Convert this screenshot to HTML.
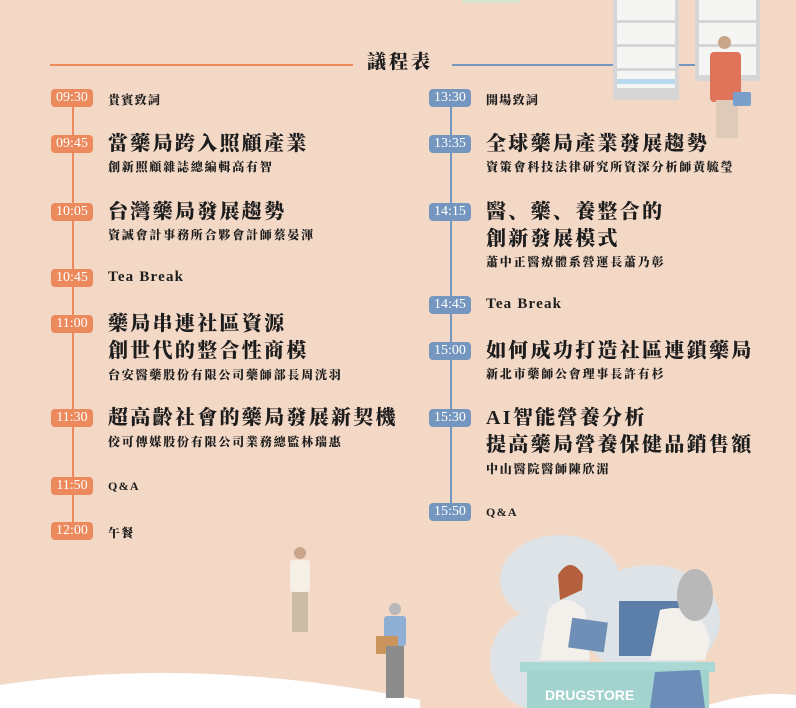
<!DOCTYPE html>
<html><head><meta charset="utf-8"><style>
*{margin:0;padding:0;box-sizing:border-box}
body{width:796px;height:708px;overflow:hidden;background:#f3d8c6;position:relative;font-family:"Liberation Serif","Noto Serif CJK SC","Noto Sans CJK TC",serif;color:#1d1d1d}
.a{position:absolute}
.b{position:absolute;width:42px;height:18px;border-radius:4px;color:#fff;font-size:14px;line-height:18px;text-align:center;font-family:"Liberation Serif",serif}
.o{background:#ec8a5e}.bl{background:#7597bf}
.t{position:absolute;font-weight:900;font-size:20px;line-height:27px;letter-spacing:2.3px;white-space:nowrap}
.s{position:absolute;font-weight:900;font-size:12px;line-height:14px;letter-spacing:1.8px;white-space:nowrap}
.m{position:absolute;font-weight:900;font-size:12px;white-space:nowrap;letter-spacing:1.3px}
.en{font-size:15px;letter-spacing:1.2px}
</style></head><body>
<div class="a" style="left:462px;top:0;width:58px;height:3px;background:#d7e6cf"></div>
<div class="a" style="left:613px;top:0;width:66px;height:100px;background:#d6d6d6"></div>
<div class="a" style="left:617px;top:0;width:58px;height:88px;background:#f5f5f3"></div>
<div class="a" style="left:617px;top:20px;width:58px;height:3px;background:#d6d6d6"></div>
<div class="a" style="left:617px;top:44px;width:58px;height:3px;background:#d6d6d6"></div>
<div class="a" style="left:617px;top:68px;width:58px;height:3px;background:#d6d6d6"></div>
<div class="a" style="left:617px;top:79px;width:58px;height:5px;background:#b9d9ef"></div>
<div class="a" style="left:695px;top:0;width:65px;height:81px;background:#d6d6d6"></div>
<div class="a" style="left:699px;top:0;width:57px;height:75px;background:#f5f5f3"></div>
<div class="a" style="left:699px;top:20px;width:57px;height:3px;background:#d6d6d6"></div>
<div class="a" style="left:699px;top:44px;width:57px;height:3px;background:#d6d6d6"></div>
<div class="a" style="left:718px;top:36px;width:13px;height:13px;border-radius:50%;background:#c9a58a"></div>
<div class="a" style="left:710px;top:52px;width:31px;height:50px;background:#e0745a;border-radius:4px"></div>
<div class="a" style="left:716px;top:100px;width:22px;height:38px;background:#ddcab8"></div>
<div class="a" style="left:733px;top:92px;width:18px;height:14px;background:#7b9fcb;border-radius:2px"></div>
<div class="a" style="left:50px;top:64px;width:303px;height:1.5px;background:#ec8a5e"></div>
<div class="a" style="left:452px;top:64px;width:161px;height:1.5px;background:#7597bf"></div>
<div class="a" style="left:679px;top:64px;width:16px;height:1.5px;background:#7597bf"></div>
<div class="t" style="left:367px;top:49px;font-size:19px;letter-spacing:3px">議程表</div>
<div class="a" style="left:72px;top:106px;width:1.5px;height:425px;background:#ec8a5e"></div>
<div class="a" style="left:450px;top:106px;width:1.5px;height:406px;background:#7597bf"></div>
<div class="b o" style="left:51px;top:89px">09:30</div><div class="m" style="left:108px;top:91px">貴賓致詞</div>
<div class="b o" style="left:51px;top:135px">09:45</div><div class="t" style="left:108px;top:131px">當藥局跨入照顧產業</div><div class="s" style="left:108px;top:160px">創新照顧雜誌總編輯高有智</div>
<div class="b o" style="left:51px;top:203px">10:05</div><div class="t" style="left:108px;top:199px">台灣藥局發展趨勢</div><div class="s" style="left:108px;top:228px">資誠會計事務所合夥會計師蔡晏渾</div>
<div class="b o" style="left:51px;top:269px">10:45</div><div class="m en" style="left:108px;top:269px">Tea Break</div>
<div class="b o" style="left:51px;top:315px">11:00</div><div class="t" style="left:108px;top:311px">藥局串連社區資源<br>創世代的整合性商模</div><div class="s" style="left:108px;top:368px">台安醫藥股份有限公司藥師部長周洸羽</div>
<div class="b o" style="left:51px;top:409px">11:30</div><div class="t" style="left:108px;top:405px">超高齡社會的藥局發展新契機</div><div class="s" style="left:108px;top:435px">佼可傳媒股份有限公司業務總監林瑞惠</div>
<div class="b o" style="left:51px;top:477px">11:50</div><div class="m" style="left:108px;top:479px">Q&amp;A</div>
<div class="b o" style="left:51px;top:522px">12:00</div><div class="m" style="left:108px;top:524px">午餐</div>
<div class="b bl" style="left:429px;top:89px">13:30</div><div class="m" style="left:486px;top:91px">開場致詞</div>
<div class="b bl" style="left:429px;top:135px">13:35</div><div class="t" style="left:486px;top:131px">全球藥局產業發展趨勢</div><div class="s" style="left:486px;top:160px">資策會科技法律研究所資深分析師黃毓瑩</div>
<div class="b bl" style="left:429px;top:203px">14:15</div><div class="t" style="left:486px;top:199px">醫、藥、養整合的<br>創新發展模式</div><div class="s" style="left:486px;top:255px">蕭中正醫療體系營運長蕭乃彰</div>
<div class="b bl" style="left:429px;top:296px">14:45</div><div class="m en" style="left:486px;top:296px">Tea Break</div>
<div class="b bl" style="left:429px;top:342px">15:00</div><div class="t" style="left:486px;top:338px">如何成功打造社區連鎖藥局</div><div class="s" style="left:486px;top:367px">新北市藥師公會理事長許有杉</div>
<div class="b bl" style="left:429px;top:409px">15:30</div><div class="t" style="left:486px;top:405px">AI智能營養分析<br>提高藥局營養保健品銷售額</div><div class="s" style="left:486px;top:462px">中山醫院醫師陳欣湄</div>
<div class="b bl" style="left:429px;top:503px">15:50</div><div class="m" style="left:486px;top:505px">Q&amp;A</div>
<svg class="a" style="left:0;top:0" width="796" height="708">
<path d="M0 685 Q200 655 420 700 L420 708 L0 708Z" fill="#fff"/>
<path d="M700 708 Q750 690 796 695 L796 708Z" fill="#fff"/>
<ellipse cx="560" cy="580" rx="60" ry="45" fill="#dde3e6"/>
<ellipse cx="650" cy="620" rx="70" ry="55" fill="#dde3e6"/>
<ellipse cx="540" cy="660" rx="50" ry="50" fill="#dde3e6"/>
<path d="M548 610 Q565 590 585 610 L590 660 L540 660Z" fill="#f3f0ec"/>
<circle cx="571" cy="578" r="12" fill="#f1c6a6"/>
<path d="M558 575 Q570 555 583 575 L582 590 L560 600Z" fill="#b5603d"/>
<rect x="570" y="620" width="36" height="30" fill="#6f8fb6" transform="rotate(8 588 635)"/>
<rect x="619" y="601" width="60" height="55" fill="#5b7fa8"/>
<path d="M660 610 Q700 600 710 640 L705 660 L650 660Z" fill="#f3f0ec"/>
<ellipse cx="695" cy="595" rx="18" ry="26" fill="#b8b8b8"/>
<rect x="520" y="662" width="195" height="10" fill="#aad8d4"/>
<rect x="527" y="670" width="182" height="38" fill="#a3d3ce"/>
<path d="M655 672 L700 670 L705 708 L650 708Z" fill="#6b8db8"/>
<text x="545" y="700" fill="#fff" font-family="Liberation Sans" font-weight="bold" font-size="14">DRUGSTORE</text>
<circle cx="300" cy="553" r="6" fill="#c9a58a"/>
<rect x="290" y="560" width="20" height="32" rx="3" fill="#f5efe6"/>
<rect x="292" y="592" width="16" height="40" fill="#cbbca8"/>
<circle cx="395" cy="609" r="6" fill="#b8b8b8"/>
<rect x="384" y="616" width="22" height="30" rx="3" fill="#8fb0d4"/>
<rect x="376" y="636" width="22" height="18" fill="#c9955c"/>
<rect x="386" y="646" width="18" height="52" fill="#8c8c8c"/>
</svg>
</body></html>
